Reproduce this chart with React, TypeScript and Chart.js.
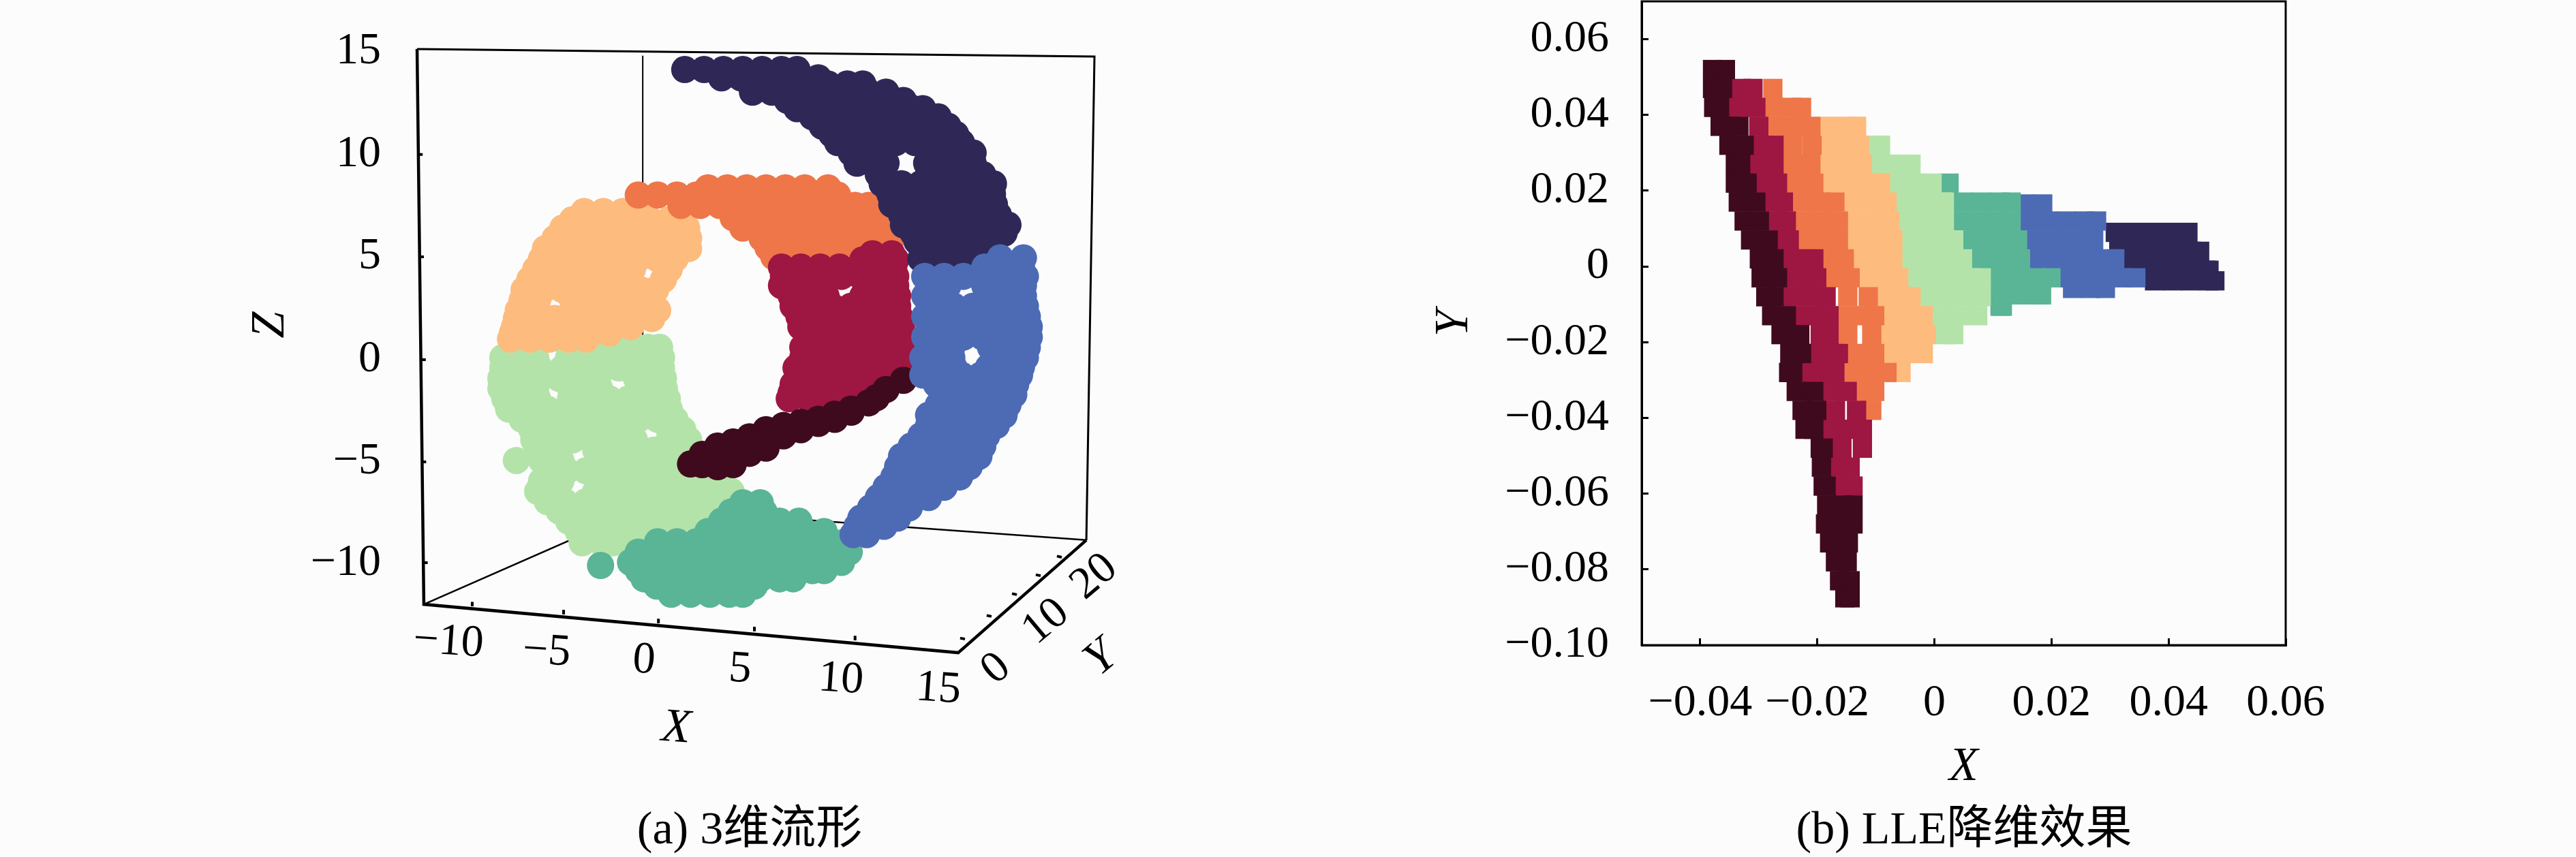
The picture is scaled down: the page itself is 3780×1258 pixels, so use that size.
import React, { useEffect, useRef } from "react";
import { Chart, registerables } from "chart.js";

Chart.register(...registerables);

type Rows = [number, number[]][];

const SERIF = '"Liberation Serif", "Noto Sans CJK SC", serif';
const COLORS = {
  maroon: "#3f0a1e", crimson: "#9e1642", orange: "#ee7648", lightOrange: "#fdbb7d",
  lightGreen: "#b4e3aa", teal: "#5ab496", blue: "#4d6bb4", navy: "#2f2857",
};

/* ---------- (a) 3-D manifold: rows of [Z, X values] as seen on the page ---------- */
const navy3d: Rows = [
  [14.1, [1.4, 2.4, 3.4, 4.4, 5.4, 6.4, 7.2]],
  [13.7, [3.3, 4.3, 5.3, 6.3, 7.3, 8.3]],
  [13.4, [4.8, 5.8, 6.8, 7.8, 8.8, 9.8, 10.6]],
  [13, [4.9, 5.9, 6.9, 7.9, 8.9, 9.9, 10.9, 11.8]],
  [12.6, [6.7, 7.7, 8.7, 9.7, 10.7, 11.7, 12.7]],
  [12.2, [7.2, 8.2, 9.2, 10.2, 11.2, 12.2, 13.2, 13.7]],
  [11.8, [8, 9, 10, 11, 12, 13, 14, 14.5]],
  [11.35, [8.5, 9.5, 10.5, 11.5, 12.5, 13.5, 14.5, 15]],
  [10.95, [9, 10, 11, 12, 13, 14, 15, 15.4]],
  [10.55, [9.3, 10.3, 11.3, 12.3, 13.3, 14.3, 15.3, 15.7]],
  [10.05, [10, 11, 14, 15, 16, 16.3]],
  [9.55, [10.3, 11.3, 11.8, 13.9, 14.3, 15.3, 16.3]],
  [9, [11.4, 14, 15, 16, 16.8]],
  [8.55, [11.6, 12.6, 13.6, 14.6, 15.6, 16.6, 17.35]],
  [8.05, [12, 13, 14, 15, 16, 17, 17.3]],
  [7.55, [12.1, 13.1, 14.1, 15.1, 16.1, 17.1, 17.4]],
  [7.05, [12.6, 13.6, 14.6, 15.6, 16.6, 17.6]],
  [6.55, [12.7, 13.7, 14.7, 15.7, 16.7, 17.7, 18.1]],
  [6.15, [13.2, 14.2, 15.2, 16.2, 17.2, 17.9]],
  [5.75, [13.4, 14.4, 15.4, 16.4, 17.4]],
  [5.3, [13.9, 14.9, 15.9, 16.9]],
  [4.9, [13.6, 14.6, 15.6, 16]],
];
const blue3d: Rows = [
  [4.95, [17.7, 18.9]],
  [4.5, [16.9, 17.9, 18.8]],
  [4.05, [13.8, 14.8, 15.8, 16.8, 17.8, 18.8, 19]],
  [3.6, [14.3, 15, 16.9, 17.9, 18.9]],
  [3.1, [13.8, 14.8, 17, 18, 18.9]],
  [2.6, [14.3, 15.3, 16.3, 17.3, 18.3, 19]],
  [2.1, [13.8, 14.8, 15.8, 16.8, 17.8, 18.8, 19.1]],
  [1.6, [14.3, 15.3, 16.3, 17.3, 18.3, 19.2]],
  [1.1, [13.8, 14.8, 15.8, 16.8, 17.8, 18.8, 19.2]],
  [0.6, [14.2, 15.2, 17.2, 18.2, 19.1]],
  [0.1, [13.7, 14.7, 15.2, 17.4, 18.4, 19]],
  [-0.35, [14.2, 15.3, 17.1, 18.1, 18.8]],
  [-0.75, [13.7, 14.7, 15.7, 16.7, 17.7, 18.7]],
  [-1.2, [14.4, 15.4, 16.4, 17.4, 18.5]],
  [-1.7, [14.7, 15.7, 16.7, 17.7, 18.4]],
  [-2.2, [14.5, 15.5, 16.5, 17.5, 18.1]],
  [-2.7, [14, 15, 16, 17, 17.9]],
  [-3.2, [14, 15, 16, 17, 17.5]],
  [-3.7, [13.6, 14.6, 15.6, 16.6, 17]],
  [-4.2, [13.1, 14.1, 15.1, 16.1, 16.8]],
  [-4.7, [12.6, 13.6, 14.6, 15.6, 16.6]],
  [-5.2, [12.4, 13.4, 14.4, 15.4, 16.1]],
  [-5.7, [12.2, 13.2, 14.2, 15.2, 15.6]],
  [-6.2, [11.8, 12.8, 13.8, 14.8]],
  [-6.7, [11.4, 12.4, 13.4, 14]],
  [-7.2, [11, 12, 13]],
  [-7.7, [10.5, 11.5, 12.4]],
  [-8.1, [10.3, 11.2, 11.7]],
  [-8.5, [10.1, 10.8]],
];
const crimson3d: Rows = [
  [5.15, [11.1, 12.1]],
  [4.85, [10.6, 11.6, 12.3]],
  [4.5, [6.4, 7.4, 8.4, 9.4, 10.4, 11.4, 12.2]],
  [4.05, [6.5, 7.5, 8.5, 9.5, 10.5, 11.5, 12.3]],
  [3.6, [6.4, 7.4, 8.4, 10.9, 11.9, 12.3]],
  [3.1, [6.9, 7.9, 8.7, 10.6, 11.6, 12.4]],
  [2.6, [7, 8, 9, 10, 11, 12, 12.4]],
  [2.1, [7.3, 8.3, 9.3, 10.3, 11.3, 12.3, 12.5]],
  [1.6, [7.4, 8.4, 9.4, 10.4, 11.4, 12.4, 12.6]],
  [1.1, [7.9, 8.9, 9.9, 10.9, 11.9, 12.7]],
  [0.6, [7.5, 8.5, 9.5, 10.5, 11.5, 12.5, 12.75]],
  [0.1, [7.5, 8, 9, 10, 11, 12, 12.9]],
  [-0.4, [7.15, 8.15, 9.15, 10.15, 11.15, 12.15, 12.6]],
  [-0.8, [7.3, 8.3, 9.3, 10.3, 11.3, 12.3]],
  [-1.2, [7, 7.5, 8.5, 9.5, 10.5, 11.5]],
  [-1.6, [6.9, 7.9, 8.9, 9.9, 10.9]],
  [-1.9, [6.8, 7.8, 8.8, 9.3]],
];
const maroon3d: Rows = [
  [-5.07, [1.7]], [-4.6, [2.3]], [-5.1, [2.3, 3.9]], [-4.2, [3.1]], [-5.2, [3.1]],
  [-4, [3.9]], [-4.5, [3.9]], [-3.75, [4.75]], [-4.15, [4.75]], [-4.55, [4.75]],
  [-3.4, [5.6, 7.4]], [-4.05, [5.6]], [-4.3, [5.6]], [-3.2, [6.5]], [-3.7, [6.5]],
  [-3.05, [7.4]], [-2.9, [8.3, 9.15]], [-3.1, [8.3]], [-2.65, [9.15]], [-2.4, [10]],
  [-2.55, [10]], [-2.1, [10.9]], [-1.85, [11.3]], [-1.45, [11.8]], [-1, [12.7]],
];
const orange3d: Rows = [
  [8.35, [2.6, 3.6, 4.6, 5.6, 6.6, 7.6, 8.8]],
  [8, [-1, 0, 1, 2, 3, 4, 5, 6, 7, 8, 9, 9.3]],
  [7.5, [1.2, 2.2, 3.2, 4.2, 5.2, 6.2, 7.2, 8.2, 9.2, 10.2, 10.9]],
  [6.9, [3.9, 4.9, 5.9, 6.9, 7.9, 8.9, 9.9, 10.9, 11.6]],
  [6.4, [4.4, 5.4, 6.4, 7.4, 8.4, 9.4, 10.4, 11.4, 11.9]],
  [5.9, [5.4, 6.4, 7.4, 8.4, 9.4, 10.4, 11.4, 12.1]],
  [5.45, [5.7, 6.7, 7.7, 8.7, 9.7, 10.7, 11.7]],
  [5, [6, 7, 8, 9, 10, 11, 11.4]],
];
const lightOrange3d: Rows = [
  [7.2, [-3.8, -2.8, -1.8, -0.8]],
  [6.8, [-4.4, -3.4, -2.4, -1.4, -0.4, 0.6]],
  [6.4, [-4.9, -3.9, -2.9, -1.9, -0.9, 0.1, 1.1, 1.5]],
  [5.9, [-5.3, -4.3, -3.3, -2.3, -1.3, -0.3, 0.7, 1.6]],
  [5.4, [-5.8, -4.8, -3.8, -2.8, -1.8, -0.8, 0.2, 1.2, 1.6]],
  [4.9, [-6, -5, -4, -3, -2, -1, 0, 0.9]],
  [4.4, [-6.3, -5.3, -4.3, -3.3, -2.3, -1.3, 0.6]],
  [3.9, [-6.6, -5.6, -4.6, -3.6, -2.6, -1.6, 0.3]],
  [3.4, [-6.9, -5.9, -4.9, -3.9, -2.9, -1.9, -0.9, -0.1]],
  [2.9, [-7, -6.2, -4.4, -3.4, -2.4, -1.4, -0.4]],
  [2.4, [-7.2, -6.2, -4.2, -3.2, -2.2, -1.2, -0.2, 0]],
  [2, [-7.3, -6.3, -5.3, -4.3, -3.3, -2.3, -1.3, -0.3]],
  [1.6, [-7.4, -6.4, -5.4, -4.4, -3.4, -2.4, -1.4]],
  [1.3, [-7.5, -6.5, -5.5, -4.5, -3.5, -2.5]],
  [1, [-7.6, -6.6, -5.6, -4.6, -3.7]],
];
const lightGreen3d: Rows = [
  [0.6, [-7.5, -6.5, -4.6, -3.5, -2.5, -1.5, -0.5, 0.1]],
  [0.1, [-8, -7, -6.3, -4.6, -3.6, -2.6, -1.6, -0.6, 0.2]],
  [-0.4, [-8, -7, -6.1, -4.9, -4, -3, -2, -1, 0, 0.2]],
  [-0.9, [-8.1, -7.1, -6.1, -5.1, -4.1, -3.1, -1.1, -0.1, 0.3]],
  [-1.4, [-8.1, -7.1, -6.3, -4.5, -3, -1, 0, 0.35]],
  [-1.9, [-7.9, -6.9, -6.2, -4.5, -3.5, -2.5, -1.5, -0.5, 0.5]],
  [-2.4, [-7.7, -6.7, -5.7, -4.7, -3.7, -2.7, -1.7, -0.7, 0.3, 0.6]],
  [-2.9, [-7, -6, -5, -4, -3, -2, -1, 0, 0.9]],
  [-3.4, [-6.5, -5.5, -4.5, -3.5, -2.5, -1.5, 0.6, 1.3]],
  [-3.9, [-6.4, -5.4, -4.4, -3.4, -2.4, -1.2, 0.6, 1.6]],
  [-4.4, [-6.2, -5.2, -3.2, -2.2, -1.2, -0.2, 0.8, 1.8]],
  [-4.9, [-7.3, -6, -5, -3, -2, -1, 0, 1, 2]],
  [-5.4, [-5.7, -4.7, -3.7, -2.7, -1.7, -0.7, 0.3, 1.3, 2.3, 2.8]],
  [-5.9, [-6, -5, -3, -2, -1, 0, 1, 2, 3]],
  [-6.4, [-6.2, -5.2, -3.2, -2.2, -1.2, -0.2, 0.8, 1.8, 2.8, 3.8]],
  [-6.9, [-5.7, -4.8, -3.7, -2.7, -1.7, -0.7, 0.3, 1.3, 2.3, 3.3]],
  [-7.35, [-5.1, -4.6, -3.6, -2.6, -1.6, -0.6, 0.4, 1.4, 2.4]],
  [-7.85, [-4.6, -3.6, -2.6, -1.6, -0.6, 0.4, 1.4]],
  [-8.35, [-4.1, -3.1, -2.1, -1.1, -0.1, 0.9]],
  [-8.9, [-3.9, -2.9, -2.3, -1.5, -0.5]],
];
const teal3d: Rows = [
  [-6.95, [4.4, 5.3]],
  [-7.4, [3.8, 4.8, 5.5]],
  [-7.85, [3.3, 4.3, 5.3, 6.3, 7.3]],
  [-8.35, [2.6, 3.6, 4.6, 5.6, 6.6, 7.6, 8.6]],
  [-8.85, [0, 1, 2, 3, 4, 5, 6, 7, 8, 9, 9.7]],
  [-9.35, [-1, 0, 1, 2, 3, 4, 5, 6, 7, 8, 9, 9.9]],
  [-9.85, [-1.4, -0.4, 0.6, 1.6, 2.6, 3.6, 4.6, 5.6, 6.6, 7.6, 8.6, 9.5]],
  [-10, [-2.95]],
  [-10.25, [-1, 0, 1, 2, 3, 4, 5, 6, 7, 8, 8.6]],
  [-10.65, [-0.7, 0.3, 1.3, 2.3, 3.3, 4.3, 5.3, 6.3, 7]],
  [-11, [-0.05, 1, 2, 3, 4, 5]],
  [-11.4, [0.7, 1.7, 2.7, 3.7, 4.4]],
];

/* frame of the 3-D box, in the same page units */
const frameBack = [
  [{ x: -0.77, y: 14.77 }, { x: -0.77, y: -7.22 }],
  [{ x: -12.08, y: -11.89 }, { x: -0.77, y: -7.22 }, { x: 22.15, y: -8.77 }],
];
const frameThin = [[{ x: -12.43, y: 15.1 }, { x: 22.57, y: 14.73 }, { x: 22.15, y: -8.77 }]];
const frameHeavy = [[{ x: -12.43, y: 15.1 }, { x: -12.08, y: -11.89 }, { x: 15.53, y: -14.24 }, { x: 22.15, y: -8.77 }]];
const tickStubs3d = [
  [-9.58, -11.99, 0, 0.22], [-4.86, -12.38, 0, 0.22], [0.04, -12.81, 0, 0.22], [5, -13.2, 0, 0.22], [10.2, -13.64, 0, 0.22],
  [-12.36, 9.97, 0.22, 0], [-12.3, 5, 0.22, 0], [-12.2, 0, 0.22, 0], [-12.18, -4.97, 0.22, 0], [-12.1, -9.87, 0.22, 0],
  [15.88, -13.58, -0.25, 0.05], [17.25, -12.48, -0.25, 0.05], [18.56, -11.42, -0.25, 0.05], [19.79, -10.5, -0.25, 0.05], [20.88, -9.6, -0.25, 0.05],
];
const xLabels3d = ["−10", "−5", "0", "5", "10", "15"];
const yLabels3d = ["0", "10", "20"];
const zLabels3d = ["15", "10", "5", "0", "−5", "−10"];

/* ---------- (b) LLE embedding: rows of [Y, X values] ---------- */
const maroon2d: Rows = [
  [.052, [-.0379, -.0357]], [.047, [-.0379, -.0362]], [.042, [-.0377, -.0367]], [.037, [-.0366, -.035, -.0334]],
  [.032, [-.0351, -.0325]], [.027, [-.034, -.0331]], [.022, [-.034, -.032]], [.017, [-.0335, -.0305]],
  [.012, [-.0325, -.0299]], [.007, [-.0314, -.0284]], [.002, [-.0299, -.0274]], [-.003, [-.0296, -.0268]],
  [-.008, [-.0288, -.0274]], [-.013, [-.0278, -.0253]], [-.018, [-.0262, -.0246, -.023]], [-.023, [-.0247, -.0227]],
  [-.028, [-.0249, -.0242]], [-.033, [-.0236, -.0206]], [-.038, [-.0226, -.0201]], [-.043, [-.0221, -.0206]],
  [-.048, [-.0195, -.019]], [-.053, [-.0193]], [-.058, [-.019, -.0185]], [-.063, [-.0184, -.0156, -.0139]],
  [-.068, [-.0186, -.0156, -.0139]], [-.073, [-.0179, -.0147]], [-.078, [-.0169, -.0149]], [-.083, [-.0162, -.0144]],
  [-.0875, [-.0153, -.0144]],
];
const crimson2d: Rows = [
  [.047, [-.033, -.031]], [.042, [-.0335, -.0305]], [.037, [-.03]], [.032, [-.0293, -.0274]], [.027, [-.0299, -.0274]],
  [.022, [-.0288, -.0268]], [.017, [-.0273, -.0258]], [.012, [-.0267, -.0253]], [.007, [-.0252, -.0248]],
  [.002, [-.0242, -.022, -.0206]], [-.003, [-.0236, -.0218, -.0201]], [-.008, [-.0242, -.021, -.0185]],
  [-.013, [-.0221, -.019, -.018]], [-.018, [-.0195, -.018]], [-.023, [-.0204, -.0173, -.0164]], [-.028, [-.021, -.018, -.017]],
  [-.033, [-.0174, -.0149]], [-.038, [-.0169, -.0133]], [-.043, [-.0174, -.0145, -.0123]], [-.048, [-.0158, -.0123]],
  [-.053, [-.0164, -.0144]], [-.058, [-.0153, -.0139]],
];
const orange2d: Rows = [
  [.047, [-.0276]], [.042, [-.0273, -.0244, -.0227]], [.037, [-.0271, -.024, -.0211]], [.032, [-.0242, -.0209]],
  [.027, [-.0242, -.0211]], [.022, [-.0236, -.0206]], [.017, [-.0226, -.0195, -.017]], [.012, [-.0221, -.019, -.0164]],
  [.007, [-.0216, -.0185, -.0164]], [.002, [-.0174, -.0154]], [-.003, [-.0169, -.0144]], [-.008, [-.0148, -.0113]],
  [-.013, [-.0148, -.0117, -.0102]], [-.018, [-.0148, -.0107]], [-.023, [-.0132, -.0102]], [-.028, [-.0138, -.0107, -.0081]],
  [-.033, [-.0117, -.0102]], [-.038, [-.0107]],
];
const lightOrange2d: Rows = [
  [.037, [-.0179, -.0148, -.0133]], [.032, [-.0177, -.0146, -.0128]], [.027, [-.0179, -.0148, -.0123]],
  [.022, [-.0174, -.0143, -.0112, -.0092]], [.017, [-.0138, -.0107, -.0081]], [.012, [-.0132, -.0101, -.0076]],
  [.007, [-.0132, -.0101, -.0071]], [.002, [-.0122, -.0091, -.0071]], [-.003, [-.0112, -.0081, -.0061]],
  [-.008, [-.0081, -.005, -.004]], [-.013, [-.007, -.0039, -.0019]], [-.018, [-.0075, -.0044, -.0014]],
  [-.023, [-.007, -.0039, -.0019]], [-.028, [-.0057]],
];
const lightGreen2d: Rows = [
  [.032, [-.0096, -.0092]], [.027, [-.0091, -.006, -.004]], [.022, [-.006, -.0029, -.0004]],
  [.017, [-.0049, -.0018, .0013, .0017]], [.012, [-.0044, -.0013, .0017]], [.007, [-.0039, -.0008, .0023, .0033]],
  [.002, [-.0039, -.0008, .0023, .0048]], [-.003, [-.0029, .0002, .0033, .0064, .008]], [-.008, [-.0008, .0023, .0054, .008]],
  [-.013, [.0013, .0044, .0074]], [-.018, [.0018, .0033]],
];
const teal2d: Rows = [
  [.022, [.0025]], [.017, [.0049, .008, .0111, .0131]], [.012, [.0049, .008, .0111, .0131]],
  [.007, [.0065, .0096, .0127, .0142]], [.002, [.008, .0111, .0142, .0147]], [-.003, [.0112, .0143, .0174, .0199]],
  [-.0075, [.0112, .0143, .0174, .0183]], [-.0105, [.0112, .0116]],
];
const blue2d: Rows = [
  [.0165, [.0155, .0185]], [.012, [.0163, .0194, .0225, .0256, .0277]], [.007, [.0174, .0205, .0236, .0267, .0272]],
  [.002, [.0179, .021, .0241, .0272, .0303, .0308]], [-.003, [.0231, .0262, .0293, .0324, .0344]],
  [-.0058, [.0236, .0267, .0292]],
];
const navy2d: Rows = [
  [.009, [.0309, .034, .0371, .0402, .0433]], [.004, [.0315, .0346, .0377, .0408, .0439, .0453]],
  [-.001, [.034, .0371, .0402, .0433, .0464, .0469]], [-.0038, [.0376, .0407, .0438, .0469, .0479]],
];
const xTicks2d = [-0.04, -0.02, 0, 0.02, 0.04, 0.06];
const xTickLabels2d = ["−0.04", "−0.02", "0", "0.02", "0.04", "0.06"];
const yTicks2d = [-0.1, -0.08, -0.06, -0.04, -0.02, 0, 0.02, 0.04, 0.06];
const yTickLabels2d = ["−0.10", "−0.08", "−0.06", "−0.04", "−0.02", "0", "0.02", "0.04", "0.06"];

const pts = (rows: Rows) => rows.flatMap(([v, xs]) => xs.map((x) => ({ x, y: v })));

const scatter = (rows: Rows, color: string, radius: number, style: string) => ({
  type: "scatter" as const,
  data: pts(rows),
  backgroundColor: color,
  borderColor: color,
  pointRadius: radius,
  pointHoverRadius: radius,
  pointBorderWidth: 0,
  pointStyle: style,
  order: 1,
  clip: false as const,
});

const segment = (data: { x: number; y: number }[], width: number, order: number) => ({
  type: "scatter" as const,
  data,
  showLine: true,
  borderColor: "#000",
  borderWidth: width,
  pointRadius: 0,
  order,
  clip: false as const,
  borderJoinStyle: "miter" as const,
});

const FONT_TICK = `66px ${SERIF}`;
const FONT_AXIS = `italic 70px ${SERIF}`;
const FONT_CAPTION = `68px ${SERIF}`;
const DOT = 20;

const text3dPlugin = {
  id: "text3d",
  afterDraw(chart: any) {
    const c = chart.ctx;
    const put = (s: string, x: number, y: number, font: string, rot = 0, align: CanvasTextAlign = "center") => {
      c.save();
      c.translate(x, y);
      c.rotate((rot * Math.PI) / 180);
      c.font = font;
      c.fillStyle = "#000";
      c.textAlign = align;
      c.textBaseline = "middle";
      c.fillText(s, 0, 0);
      c.restore();
    };
    const xPos = [[658, 943], [802, 957], [945, 970], [1086, 983], [1234, 998], [1377, 1012]];
    xLabels3d.forEach((s, i) => put(s, xPos[i][0], xPos[i][1], FONT_TICK, 4));
    const yPos = [[1462, 982], [1535, 913], [1606, 847]];
    yLabels3d.forEach((s, i) => put(s, yPos[i][0], yPos[i][1], FONT_TICK, -40));
    const zPos = [76, 227, 377, 528, 678, 827];
    zLabels3d.forEach((s, i) => put(s, 559, zPos[i], FONT_TICK, 0, "right"));
    put("X", 992, 1070, FONT_AXIS, 4);
    put("Y", 1616, 967, FONT_AXIS, -40);
    put("Z", 398, 477, FONT_AXIS, -90);
    put("(a) 3维流形", 1100, 1220, FONT_CAPTION);
  },
};

const frame2dPlugin = {
  id: "frame2d",
  afterDraw(chart: any) {
    const c = chart.ctx;
    const a = chart.chartArea;
    c.save();
    c.strokeStyle = "#000";
    c.lineWidth = 3;
    c.strokeRect(a.left, a.top, a.right - a.left, a.bottom - a.top);
    c.font = FONT_CAPTION;
    c.fillStyle = "#000";
    c.textAlign = "center";
    c.textBaseline = "middle";
    c.fillText("(b) LLE降维效果", 992, 1220);
    c.restore();
  },
};

const noPadding = (s: any) => {
  s.paddingTop = 0;
  s.paddingBottom = 0;
  s.paddingLeft = 0;
  s.paddingRight = 0;
};

export default function App() {
  const leftRef = useRef<HTMLCanvasElement>(null);
  const rightRef = useRef<HTMLCanvasElement>(null);

  useEffect(() => {
    const stubData: any[] = tickStubs3d.flatMap(([x, y, dx, dy]) => [
      { x, y }, { x: x + dx, y: y + dy }, { x: null, y: null },
    ]);
    const left = new Chart(leftRef.current!, {
      type: "scatter",
      data: {
        datasets: [
          segment(frameHeavy[0], 4.5, 0),
          segment(frameThin[0], 3, 0),
          { ...segment(stubData, 4, 0), spanGaps: false },
          scatter(blue3d, COLORS.blue, DOT, "circle"),
          scatter(navy3d, COLORS.navy, DOT, "circle"),
          scatter(maroon3d, COLORS.maroon, DOT, "circle"),
          scatter(crimson3d, COLORS.crimson, DOT, "circle"),
          scatter(teal3d, COLORS.teal, DOT, "circle"),
          scatter(orange3d, COLORS.orange, DOT, "circle"),
          scatter(lightOrange3d, COLORS.lightOrange, DOT, "circle"),
          scatter(lightGreen3d, COLORS.lightGreen, DOT, "circle"),
          segment(frameBack[0], 2, 5),
          segment(frameBack[1], 2.5, 5),
        ] as any,
      },
      options: {
        animation: false,
        responsive: false,
        devicePixelRatio: 1,
        layout: { padding: 0, autoPadding: false },
        plugins: { legend: { display: false }, tooltip: { enabled: false } },
        scales: {
          x: { type: "linear", min: -33.98, max: 32.57, display: false },
          y: { type: "linear", min: -24.17, max: 17.48, display: false },
        },
      },
      plugins: [text3dPlugin],
    });

    const right = new Chart(rightRef.current!, {
      type: "scatter",
      data: {
        datasets: [
          scatter(maroon2d, COLORS.maroon, 20, "rect"),
          scatter(crimson2d, COLORS.crimson, 20, "rect"),
          scatter(orange2d, COLORS.orange, 20, "rect"),
          scatter(lightOrange2d, COLORS.lightOrange, 20, "rect"),
          scatter(lightGreen2d, COLORS.lightGreen, 20, "rect"),
          scatter(teal2d, COLORS.teal, 20, "rect"),
          scatter(blue2d, COLORS.blue, 20, "rect"),
          scatter(navy2d, COLORS.navy, 20, "rect"),
        ] as any,
      },
      options: {
        animation: false,
        responsive: false,
        devicePixelRatio: 1,
        layout: { padding: { top: 2, right: 426, left: 0, bottom: 0 }, autoPadding: false },
        plugins: { legend: { display: false }, tooltip: { enabled: false } },
        scales: {
          x: {
            type: "linear",
            min: -0.05,
            max: 0.06,
            afterBuildTicks: (s: any) => { s.ticks = xTicks2d.map((value) => ({ value })); },
            afterFit: (s: any) => { s.height = 311; noPadding(s); },
            grid: { drawOnChartArea: false, tickLength: -10, tickWidth: 3, tickColor: "#000" },
            border: { color: "#000", width: 3 },
            ticks: {
              autoSkip: false, maxRotation: 0, minRotation: 0, padding: 56, color: "#000",
              font: { family: SERIF, size: 66 },
              callback: (_v: any, i: number) => xTickLabels2d[i],
            },
            title: {
              display: true, text: "X", color: "#000", padding: { top: 0, bottom: 89 },
              font: { family: SERIF, size: 70, style: "italic" },
            },
          },
          y: {
            type: "linear",
            min: -0.1,
            max: 0.07,
            afterBuildTicks: (s: any) => { s.ticks = yTicks2d.map((value) => ({ value })); },
            afterFit: (s: any) => { s.width = 519; noPadding(s); },
            grid: { drawOnChartArea: false, tickLength: -10, tickWidth: 3, tickColor: "#000" },
            border: { color: "#000", width: 3 },
            ticks: {
              autoSkip: false, padding: 58, color: "#000",
              font: { family: SERIF, size: 66 },
              callback: (_v: any, i: number) => yTickLabels2d[i],
            },
            title: {
              display: true, text: "Y", color: "#000", padding: { top: 203, bottom: 0 },
              font: { family: SERIF, size: 70, style: "italic" },
            },
          },
        },
      },
      plugins: [frame2dPlugin],
    });

    return () => {
      left.destroy();
      right.destroy();
    };
  }, []);

  return (
    <div style={{ position: "fixed", left: 0, top: 0, width: 3780, height: 1258, background: "#fcfcfc", overflow: "hidden" }}>
      <canvas ref={leftRef} width={1890} height={1258} style={{ position: "absolute", left: 0, top: 0, width: 1890, height: 1258 }} />
      <canvas ref={rightRef} width={1890} height={1258} style={{ position: "absolute", left: 1890, top: 0, width: 1890, height: 1258 }} />
    </div>
  );
}
